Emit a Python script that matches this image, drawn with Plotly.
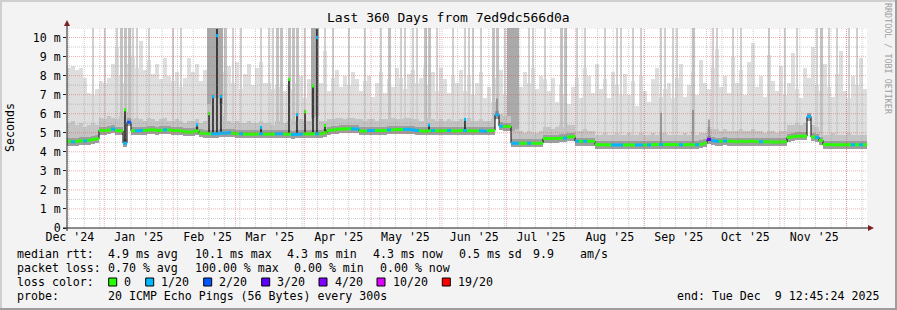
import pandas as pd
import plotly.graph_objects as go

# ---------------- data ----------------
START = pd.Timestamp("2024-12-15 05:10")
SPAN_DAYS = 360
N_SAMPLES = 200

median_ms = [
    4.55, 4.52, 4.55, 4.57, 4.57, 4.60, 4.65, 4.68, 5.12, 5.12,
    5.14, 5.20, 5.12, 5.10, 4.45, 5.55, 5.10, 5.10, 5.12, 5.12,
    5.15, 5.15, 5.12, 5.13, 5.15, 5.15, 5.12, 5.12, 5.10, 5.05,
    5.03, 5.05, 5.10, 4.98, 4.97, 4.95, 4.95, 4.95, 4.98, 4.98,
    5.00, 4.98, 4.95, 4.95, 4.93, 4.93, 4.93, 4.93, 4.95, 4.93,
    4.93, 4.93, 4.95, 4.95, 4.93, 4.93, 4.90, 4.92, 4.93, 4.95,
    4.93, 4.95, 4.95, 4.95, 5.00, 5.12, 5.15, 5.18, 5.20, 5.20,
    5.22, 5.20, 5.20, 5.10, 5.08, 5.12, 5.12, 5.12, 5.12, 5.12,
    5.15, 5.15, 5.17, 5.17, 5.18, 5.18, 5.15, 5.12, 5.10, 5.08,
    5.10, 5.12, 5.10, 5.10, 5.12, 5.12, 5.10, 5.10, 5.12, 5.12,
    5.10, 5.10, 5.10, 5.10, 5.08, 5.10, 5.12, 5.95, 5.35, 5.33,
    5.33, 4.45, 4.45, 4.45, 4.45, 4.45, 4.45, 4.45, 4.45, 4.70,
    4.70, 4.70, 4.70, 4.72, 4.72, 4.78, 4.80, 4.55, 4.55, 4.55,
    4.55, 4.55, 4.38, 4.37, 4.37, 4.36, 4.36, 4.36, 4.36, 4.36,
    4.36, 4.36, 4.36, 4.36, 4.36, 4.36, 4.38, 4.38, 4.38, 4.38,
    4.38, 4.38, 4.38, 4.37, 4.37, 4.37, 4.37, 4.37, 4.40, 4.45,
    4.65, 4.58, 4.55, 4.55, 4.57, 4.55, 4.55, 4.52, 4.55, 4.53,
    4.55, 4.55, 4.53, 4.53, 4.52, 4.52, 4.52, 4.50, 4.52, 4.52,
    4.75, 4.80, 4.82, 4.82, 4.82, 5.85, 4.78, 4.75, 4.60, 4.38,
    4.38, 4.37, 4.37, 4.37, 4.37, 4.37, 4.37, 4.37, 4.37, 4.37,
]

loss_of_20 = [
    0, 1, 0, 0, 1, 0, 0, 0, 0, 0,
    0, 1, 0, 0, 1, 2, 0, 1, 1, 0,
    0, 0, 0, 0, 1, 0, 0, 0, 0, 0,
    0, 0, 0, 0, 0, 0, 1, 1, 1, 1,
    1, 0, 0, 1, 0, 0, 0, 0, 1, 0,
    0, 0, 1, 1, 0, 0, 1, 1, 1, 0,
    0, 0, 1, 0, 0, 0, 0, 0, 0, 0,
    0, 1, 1, 0, 0, 1, 1, 0, 0, 0,
    1, 0, 0, 0, 1, 1, 1, 1, 0, 0,
    0, 1, 0, 0, 0, 1, 0, 0, 0, 1,
    0, 0, 0, 1, 1, 0, 0, 1, 1, 0,
    0, 1, 1, 0, 0, 1, 0, 0, 0, 0,
    0, 0, 0, 0, 1, 0, 0, 1, 0, 1,
    0, 0, 0, 0, 0, 0, 1, 1, 1, 0,
    0, 0, 1, 1, 0, 1, 0, 0, 1, 0,
    0, 0, 0, 1, 0, 0, 0, 1, 0, 0,
    3, 1, 1, 0, 1, 0, 0, 0, 0, 0,
    0, 0, 0, 1, 0, 0, 0, 0, 0, 0,
    0, 0, 0, 0, 0, 1, 0, 1, 0, 0,
    0, 0, 0, 0, 0, 0, 1, 0, 1, 0,
]

smoke_top_ms = [
    8.4, 8.5, 8.3, 8.4, 7.9, 7.1, 7.0, 7.3, 7.7, 7.6,
    7.9, 8.6, 9.5, 8.0, 7.6, 8.6, 9.0, 8.4, 9.8, 8.3,
    8.8, 8.1, 8.6, 7.8, 8.9, 8.0, 7.7, 8.2, 7.4, 7.9,
    8.9, 8.2, 8.6, 7.7, 8.3, 8.0, 8.0, 8.0, 8.0, 8.2,
    8.5, 7.6, 8.7, 7.3, 8.1, 8.6, 7.5, 8.4, 8.7, 7.6,
    7.6, 7.3, 7.5, 7.4, 7.2, 7.5, 7.3, 7.6, 8.0, 6.8,
    7.8, 8.1, 7.0, 7.6, 9.3, 7.2, 7.9, 8.3, 7.4, 8.0,
    7.5, 8.2, 7.8, 7.2, 7.7, 8.0, 6.9, 7.6, 8.2, 7.1,
    7.8, 7.4, 8.4, 7.9, 7.3, 8.1, 8.3, 7.6, 7.9, 8.4,
    7.5, 8.2, 7.2, 8.4, 7.8, 7.1, 8.0, 7.6, 8.3, 7.2,
    8.0, 7.0, 7.6, 8.2, 6.8, 7.4, 6.6, 7.9, 8.3, 7.0,
    8.6, 7.7, 8.9, 7.4, 8.2, 7.6, 8.4, 7.3, 8.0, 7.8,
    7.2, 7.9, 6.6, 7.5, 7.0, 6.5, 7.4, 7.9, 6.8, 8.4,
    8.0, 7.1, 8.6, 7.3, 7.8, 6.8, 8.2, 7.5, 7.0, 8.1,
    7.0, 7.7, 6.4, 8.0, 7.2, 6.6, 7.8, 8.4, 6.9, 7.3,
    7.6, 6.8, 7.9, 8.6, 6.9, 7.5, 8.2, 7.0, 8.8, 7.6,
    7.3, 8.4, 9.4, 7.4, 8.0, 7.1, 9.0, 7.6, 8.3, 7.0,
    8.7, 9.7, 7.4, 8.0, 6.9, 9.1, 7.7, 7.2, 8.5, 7.0,
    7.6, 9.2, 7.3, 6.8, 8.4, 7.9, 9.5, 7.5, 7.2, 8.6,
    7.4, 6.9, 8.1, 9.3, 7.2, 6.8, 8.0, 7.5, 8.9, 7.3,
]

smoke_mid_ms = [
    5.5, 5.6, 5.4, 5.5, 5.3, 5.4, 5.5, 5.4, 5.8, 5.7,
    5.9, 5.8, 5.7, 5.9, 5.9, 6.1, 5.7, 5.8, 5.7, 5.6,
    5.8, 5.7, 5.6, 5.7, 5.8, 5.6, 5.6, 5.7, 5.6, 5.5,
    5.6, 5.6, 5.7, 5.5, 5.6, 6.5, 6.8, 6.8, 6.5, 5.9,
    5.6, 5.5, 5.6, 5.5, 5.5, 5.6, 5.5, 5.5, 5.6, 5.5,
    5.5, 5.4, 5.6, 5.6, 5.5, 5.6, 5.7, 5.6, 5.7, 5.6,
    5.6, 5.8, 5.9, 5.6, 5.6, 5.7, 5.7, 5.8, 5.8, 5.7,
    5.8, 5.8, 5.7, 5.7, 5.6, 5.7, 5.7, 5.6, 5.7, 5.7,
    5.7, 5.8, 5.7, 5.7, 5.8, 5.8, 5.7, 5.7, 5.6, 5.6,
    5.8, 5.7, 5.6, 5.7, 5.6, 5.7, 5.6, 5.6, 5.7, 5.6,
    5.8, 5.6, 5.6, 5.7, 5.6, 5.6, 5.7, 6.6, 6.0, 5.9,
    5.9, 5.1, 5.2, 5.1, 5.0, 5.1, 5.0, 5.0, 5.1, 5.3,
    5.3, 5.2, 5.3, 5.4, 5.3, 5.4, 5.4, 5.1, 5.1, 5.2,
    5.1, 5.1, 4.9, 4.9, 5.0, 4.9, 4.9, 5.0, 4.9, 4.9,
    5.0, 4.9, 4.9, 5.0, 4.9, 4.9, 5.0, 4.9, 5.0, 5.0,
    4.9, 4.9, 4.9, 4.9, 5.0, 4.9, 5.1, 4.9, 5.0, 5.0,
    5.3, 5.2, 5.2, 5.1, 5.2, 5.1, 5.1, 5.1, 5.2, 5.1,
    5.1, 5.2, 5.1, 5.1, 5.0, 5.1, 5.1, 5.0, 5.1, 5.1,
    5.4, 5.4, 5.5, 5.4, 5.5, 6.0, 5.4, 5.3, 5.1, 4.9,
    4.9, 5.0, 4.9, 4.9, 4.9, 5.0, 4.9, 4.9, 4.9, 4.9,
]

# samples where the smoke reaches the top of the graph (shade 1 light .. 3 dark)
tall_idx = [6, 9, 12, 13, 14, 15, 16, 17, 20, 26, 28, 35, 36, 37, 38, 39, 41, 43, 48,
            50, 51, 52, 53, 55, 56, 57, 59, 61, 62, 64, 66, 70, 74, 78, 80, 83, 84,
            86, 87, 89, 90, 92, 96, 99, 100, 101, 103, 106, 107, 109, 110, 111, 112,
            115, 116, 119, 123, 124, 127, 129, 134, 137, 138, 141, 143, 148, 149,
            151, 152, 156, 161, 162, 166, 168, 175, 179, 182, 187, 188, 190, 192,
            195, 197]
tall_shade = [1, 1, 1, 2, 2, 2, 1, 1, 1, 1, 1, 3, 3, 3, 3, 2, 1, 1, 1,
              1, 1, 2, 2, 2, 2, 2, 1, 3, 3, 1, 1, 1, 1, 1, 2, 1, 1,
              1, 1, 2, 2, 1, 1, 1, 1, 1, 1, 2, 2, 1, 3, 3, 3,
              1, 1, 1, 2, 2, 1, 1, 1, 1, 1, 1, 1, 1, 1,
              1, 1, 2, 1, 1, 1, 1, 1, 1, 1, 1, 2, 1, 1,
              1, 1]

# short-lived median excursions (vertical lines) and their loss colour
spike_idx = [14, 32, 35, 36, 37, 38, 48, 55, 57, 59, 61, 62, 64, 90, 99, 107, 148, 156, 160]
spike_top_ms = [6.25, 5.45, 6.05, 6.95, 10.45, 6.95, 5.30, 7.85, 6.00, 6.15, 7.50, 10.45,
                5.40, 5.45, 5.75, 6.80, 6.05, 6.20, 5.70]
spike_mark_ms = [6.20, 5.42, 6.00, 6.90, 10.10, 6.90, 5.28, 7.80, 5.95, 6.10, 7.45, 10.00,
                 5.38, 5.40, 5.70, None, None, None, None]
spike_loss = [0, 1, 0, 1, 1, 1, 1, 0, 1, 0, 0, 1, 0, 1, 1, 0, 0, 0, 0]

month_starts = ["2024-12-01", "2025-01-01", "2025-02-01", "2025-03-01", "2025-04-01",
                "2025-05-01", "2025-06-01", "2025-07-01", "2025-08-01", "2025-09-01",
                "2025-10-01", "2025-11-01", "2025-12-01"]
month_labels = ["Dec '24", "Jan '25", "Feb '25", "Mar '25", "Apr '25", "May '25",
                "Jun '25", "Jul '25", "Aug '25", "Sep '25", "Oct '25", "Nov '25"]
y_tick_values = [0, 1, 2, 3, 4, 5, 6, 7, 8, 9, 10]
y_tick_labels = ["0", "1 m", "2 m", "3 m", "4 m", "5 m", "6 m", "7 m", "8 m", "9 m", "10 m"]

loss_levels = [0, 1, 2, 3, 4, 10, 19]
loss_colors = ["#26ff00", "#00b8ff", "#0059ff", "#5e00ff", "#7e00ff", "#dd00ff", "#ff0000"]
loss_labels = ["0", "1/20", "2/20", "3/20", "4/20", "10/20", "19/20"]

stats_median = ["4.9 ms avg", "10.1 ms max", "4.3 ms min", "4.3 ms now", "0.5 ms sd", "9.9", "am/s"]
stats_loss = ["0.70 % avg", "100.00 % max", "0.00 % min", "0.00 % now"]
probe_text = "20 ICMP Echo Pings (56 Bytes) every 300s"
end_text = "end: Tue Dec  9 12:45:24 2025"
title_text = "Last 360 Days from 7ed9dc566d0a"

# ---------------- geometry helpers ----------------
W, H = 897, 310
PL, PR, PT, PB = 67, 867, 28, 228
Y_MAX = 10.5
FONT = "DejaVu Sans Mono"
FS = 11.6


def px(x):
    return (x - PL) / (PR - PL)


def py(y):
    return (PB - y) / (PB - PT)


def nb(s):
    return s.replace(" ", "\u00a0")


def loss_color(n):
    c = loss_colors[0]
    for lvl, col in zip(loss_levels, loss_colors):
        if n >= lvl:
            c = col
    return c


END = START + pd.Timedelta(days=SPAN_DAYS)
step = pd.Timedelta(days=SPAN_DAYS / N_SAMPLES)
step_ms = step.total_seconds() * 1000
t = [START + step * (i + 0.5) for i in range(N_SAMPLES)]

base_light = [m - 0.18 for m in median_ms]
base_mid = [m - 0.22 for m in median_ms]

fig = go.Figure()

# light smoke
fig.add_trace(go.Bar(x=t, base=base_light,
                     y=[top - b for top, b in zip(smoke_top_ms, base_light)],
                     width=step_ms * 1.05, marker=dict(color="#dedede", line=dict(width=0)),
                     hoverinfo="skip", showlegend=False))

# tall smoke columns
shade_col = {1: "#d0d0d0", 2: "#c2c2c2", 3: "#aaaaaa"}
shade_w = {1: 0.6, 2: 0.75, 3: 1.05}
for s in (1, 2, 3):
    idx = [i for i, sh in zip(tall_idx, tall_shade) if sh == s]
    fig.add_trace(go.Bar(x=[t[i] for i in idx], base=[base_light[i] for i in idx],
                         y=[Y_MAX - base_light[i] for i in idx],
                         width=step_ms * shade_w[s],
                         marker=dict(color=shade_col[s], line=dict(width=0)),
                         hoverinfo="skip", showlegend=False))

# mid smoke band
fig.add_trace(go.Bar(x=t, base=base_mid,
                     y=[mid - b for mid, b in zip(smoke_mid_ms, base_mid)],
                     width=step_ms * 1.05, marker=dict(color="#c4c4c4", line=dict(width=0)),
                     hoverinfo="skip", showlegend=False))
# dense smoke right around the median
fig.add_trace(go.Bar(x=t, base=base_mid, y=[0.42] * N_SAMPLES,
                     width=step_ms * 1.05, marker=dict(color="#9e9e9e", line=dict(width=0)),
                     hoverinfo="skip", showlegend=False))

# thin black median line
fig.add_trace(go.Scatter(x=t, y=median_ms, mode="lines",
                         line=dict(color="#000000", width=1, shape="hvh"),
                         hoverinfo="skip", showlegend=False))

# spikes: black where a loss colour is drawn on top, grey where the excursion is faint
for faint in (False, True):
    sx, sy = [], []
    for i, top, mark in zip(spike_idx, spike_top_ms, spike_mark_ms):
        if (mark is None) == faint:
            sx += [t[i], t[i], None]
            sy += [median_ms[i], top, None]
    fig.add_trace(go.Scatter(x=sx, y=sy, mode="lines",
                             line=dict(color="#7a7a7a" if faint else "#000000",
                                       width=1.3),
                             hoverinfo="skip", showlegend=False))

# coloured median segments
med_cols = [loss_color(n) for n in loss_of_20]
fig.add_trace(go.Scatter(x=t, y=median_ms, mode="markers",
                         marker=dict(symbol="line-ew", size=2.9, color=med_cols,
                                     line=dict(width=3, color=med_cols)),
                         hoverinfo="skip", showlegend=False))
mk = [(t[i], m, loss_color(l)) for i, m, l in zip(spike_idx, spike_mark_ms, spike_loss) if m is not None]
fig.add_trace(go.Scatter(x=[a for a, _, _ in mk], y=[b for _, b, _ in mk], mode="markers",
                         marker=dict(symbol="line-ew", size=1.6, color=[c for _, _, c in mk],
                                     line=dict(width=3, color=[c for _, _, c in mk])),
                         hoverinfo="skip", showlegend=False))

# ---------------- grid, axes, frame ----------------
shapes = []
GRID = "rgba(143,143,143,0.46)"
MGRID = "rgba(222,80,80,0.46)"
DOT = "1px,1px"
mondays = pd.date_range("2024-12-16", END, freq="7D")
for d in mondays:
    shapes.append(dict(type="line", xref="x", yref="paper", x0=d, x1=d, y0=0, y1=1,
                       line=dict(color=GRID, width=1, dash=DOT), layer="above"))
for d in month_starts:
    d = pd.Timestamp(d)
    if START < d < END:
        shapes.append(dict(type="line", xref="x", yref="paper", x0=d, x1=d, y0=0, y1=1,
                           line=dict(color=MGRID, width=1, dash=DOT), layer="above"))
for k in range(1, 22):
    v = k * 0.5
    col = MGRID if k % 2 == 0 else GRID
    shapes.append(dict(type="line", xref="paper", yref="y", x0=0, x1=1, y0=v, y1=v,
                       line=dict(color=col, width=1, dash=DOT), layer="above"))

AX = "#1f1f1f"
ARROW = "#7f1f1f"
shapes.append(dict(type="line", xref="paper", yref="paper", x0=px(67), x1=px(67),
                   y0=py(231), y1=py(24), line=dict(color=AX, width=1), layer="above"))
shapes.append(dict(type="line", xref="paper", yref="paper", x0=px(63), x1=px(868),
                   y0=py(228), y1=py(228), line=dict(color=AX, width=1), layer="above"))
shapes.append(dict(type="path", xref="paper", yref="paper",
                   path=f"M {px(64)} {py(26)} L {px(70)} {py(26)} L {px(67)} {py(20)} Z",
                   fillcolor=ARROW, line=dict(width=0), layer="above"))
shapes.append(dict(type="path", xref="paper", yref="paper",
                   path=f"M {px(868)} {py(225)} L {px(868)} {py(231)} L {px(874)} {py(228)} Z",
                   fillcolor=ARROW, line=dict(width=0), layer="above"))

# outer 3D frame
shapes.append(dict(type="line", xref="paper", yref="paper", x0=px(0), x1=px(W), y0=py(1), y1=py(1),
                   line=dict(color="#cfcfcf", width=2)))
shapes.append(dict(type="line", xref="paper", yref="paper", x0=px(1), x1=px(1), y0=py(0), y1=py(H),
                   line=dict(color="#cfcfcf", width=2)))
shapes.append(dict(type="line", xref="paper", yref="paper", x0=px(0), x1=px(W), y0=py(H - 1), y1=py(H - 1),
                   line=dict(color="#9e9e9e", width=2)))
shapes.append(dict(type="line", xref="paper", yref="paper", x0=px(W - 1), x1=px(W - 1), y0=py(0), y1=py(H),
                   line=dict(color="#9e9e9e", width=2)))

# ---------------- texts ----------------
ann = []


def text(x, y, s, anchor="left", size=FS, color="#000000", angle=0):
    ann.append(dict(x=px(x), y=py(y), xref="paper", yref="paper", text=nb(s), showarrow=False,
                    xanchor=anchor, yanchor="middle", borderpad=0, textangle=angle,
                    font=dict(family=FONT, size=size, color=color)))


text(448, 18, title_text, anchor="center", size=13)
text(10, 128, "Seconds", anchor="center", angle=-90)
text(888, 59, "RRDTOOL / TOBI OETIKER", anchor="center", size=8.4, color="#a0a0a0", angle=90)

Y1, Y2, Y3, Y4 = 254, 268, 282, 296
text(16, Y1, "median rtt:")
for xx, s in zip([107.3, 193.7, 286, 372, 458.3, 531.7, 579.3], stats_median):
    text(xx, Y1, s)
text(16, Y2, "packet loss:")
for xx, s in zip([107.3, 193.7, 293, 379], stats_loss):
    text(xx, Y2, s)
text(16, Y3, "loss color:")
box_x = [108.7, 145.7, 203.7, 261.7, 319, 377, 442.3]
lab_x = [123.3, 160.3, 218.3, 276.3, 333.7, 392.3, 457.3]
for bx, lx, col, lab in zip(box_x, lab_x, loss_colors, loss_labels):
    shapes.append(dict(type="rect", xref="paper", yref="paper", x0=px(bx), x1=px(bx + 8),
                       y0=py(Y3 + 4), y1=py(Y3 - 4), fillcolor=col,
                       line=dict(color="#000000", width=1)))
    text(lx, Y3, lab)
text(16, Y4, "probe:")
text(107.3, Y4, probe_text)
text(880, Y4, end_text, anchor="right")

tick_pos = [pd.Timestamp(d) + pd.Timedelta(hours=372) for d in month_starts[:-1]]

fig.update_layout(
    width=W, height=H,
    margin=dict(l=PL, r=W - PR, t=PT, b=H - PB, pad=0),
    paper_bgcolor="#f3f3f3", plot_bgcolor="#ffffff",
    barmode="overlay", bargap=0,
    showlegend=False,
    shapes=shapes, annotations=ann,
    font=dict(family=FONT, size=FS, color="#000000"),
    xaxis=dict(type="date", range=[START, END], showgrid=False, zeroline=False,
               showline=False, tickvals=tick_pos, ticktext=month_labels, ticks="",
               tickfont=dict(family=FONT, size=FS), fixedrange=True),
    yaxis=dict(range=[0, Y_MAX], showgrid=False, zeroline=False, showline=False,
               tickvals=y_tick_values, ticktext=y_tick_labels, ticks="outside",
               ticklen=3, tickcolor=AX, tickfont=dict(family=FONT, size=FS),
               fixedrange=True),
)

fig.write_html("out.html")
